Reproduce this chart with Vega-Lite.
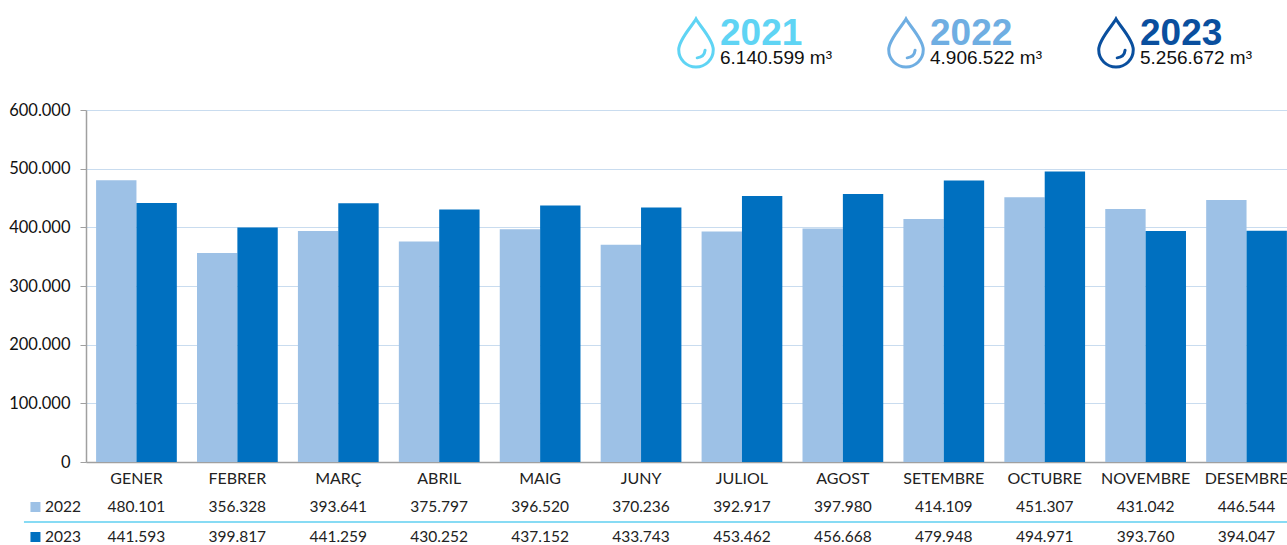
{
"$schema":"https://vega.github.io/schema/vega-lite/v6.json",
"background":"white",
"padding":{"left":8,"top":0,"right":0,"bottom":0},
"spacing":30,
"bounds":"flush",
"resolve":{"scale":{"color":"independent","stroke":"independent"}},
"config":{"view":{"stroke":null},"font":"Lato"},
"datasets":{
"totals":[
{"any":"2021","total":"6.140.599 m³"},
{"any":"2022","total":"4.906.522 m³"},
{"any":"2023","total":"5.256.672 m³"}],
"series":[{"any":"2022"},{"any":"2023"}],
"rows":[
{"mes":"GENER","any":"2022","valor":480101,"etiqueta":"480.101"},
{"mes":"FEBRER","any":"2022","valor":356328,"etiqueta":"356.328"},
{"mes":"MARÇ","any":"2022","valor":393641,"etiqueta":"393.641"},
{"mes":"ABRIL","any":"2022","valor":375797,"etiqueta":"375.797"},
{"mes":"MAIG","any":"2022","valor":396520,"etiqueta":"396.520"},
{"mes":"JUNY","any":"2022","valor":370236,"etiqueta":"370.236"},
{"mes":"JULIOL","any":"2022","valor":392917,"etiqueta":"392.917"},
{"mes":"AGOST","any":"2022","valor":397980,"etiqueta":"397.980"},
{"mes":"SETEMBRE","any":"2022","valor":414109,"etiqueta":"414.109"},
{"mes":"OCTUBRE","any":"2022","valor":451307,"etiqueta":"451.307"},
{"mes":"NOVEMBRE","any":"2022","valor":431042,"etiqueta":"431.042"},
{"mes":"DESEMBRE","any":"2022","valor":446544,"etiqueta":"446.544"},
{"mes":"GENER","any":"2023","valor":441593,"etiqueta":"441.593"},
{"mes":"FEBRER","any":"2023","valor":399817,"etiqueta":"399.817"},
{"mes":"MARÇ","any":"2023","valor":441259,"etiqueta":"441.259"},
{"mes":"ABRIL","any":"2023","valor":430252,"etiqueta":"430.252"},
{"mes":"MAIG","any":"2023","valor":437152,"etiqueta":"437.152"},
{"mes":"JUNY","any":"2023","valor":433743,"etiqueta":"433.743"},
{"mes":"JULIOL","any":"2023","valor":453462,"etiqueta":"453.462"},
{"mes":"AGOST","any":"2023","valor":456668,"etiqueta":"456.668"},
{"mes":"SETEMBRE","any":"2023","valor":479948,"etiqueta":"479.948"},
{"mes":"OCTUBRE","any":"2023","valor":494971,"etiqueta":"494.971"},
{"mes":"NOVEMBRE","any":"2023","valor":393760,"etiqueta":"393.760"},
{"mes":"DESEMBRE","any":"2023","valor":394047,"etiqueta":"394.047"}]
},
"vconcat":[
{
"width":1211,"height":80,
"data":{"name":"totals"},
"encoding":{
"x":{"field":"any","type":"ordinal","axis":null,"scale":{"type":"point","domain":["2021","2022","2023"],"range":[610,1030],"padding":0}}
},
"layer":[
{"mark":{"type":"point","filled":false,"strokeWidth":3,"strokeCap":"round","yOffset":3,"shape":"M0,-1 C0.15,-0.72 0.72,-0.15 0.72,0.28 C0.72,0.68 0.4,1 0,1 C-0.4,1 -0.72,0.68 -0.72,0.28 C-0.72,-0.15 -0.15,-0.72 0,-1 Z M0.38,0.3 C0.36,0.48 0.24,0.6 0.05,0.62","size":2300,"opacity":1},
"encoding":{"stroke":{"field":"any","type":"nominal","legend":null,"scale":{"domain":["2021","2022","2023"],"range":["#5FD4F4","#6FAEE2","#0A4F9E"]}}}},
{"mark":{"type":"text","align":"left","baseline":"alphabetic","dx":24,"yOffset":5,"font":"Liberation Sans","fontWeight":"bold","fontSize":37},
"encoding":{"text":{"field":"any"},"color":{"field":"any","type":"nominal","legend":null,"scale":{"domain":["2021","2022","2023"],"range":["#5FD4F4","#6FAEE2","#0A4F9E"]}}}},
{"mark":{"type":"text","align":"left","baseline":"alphabetic","dx":24,"yOffset":24,"font":"Liberation Sans","fontSize":19,"color":"#111111"},
"encoding":{"text":{"field":"total"}}}
]
},
{
"width":1211,"height":352,
"data":{"name":"rows"},
"mark":{"type":"bar"},
"encoding":{
"x":{"field":"mes","type":"nominal","sort":null,"title":null,"scale":{"paddingInner":0.2,"paddingOuter":0.1},
"axis":{"labelAngle":0,"ticks":false,"domainColor":"#A0A0A0","domainWidth":1.5,"labelPadding":8,"labelFontSize":16,"labelColor":"#222222","labelFont":"Lato"}},
"xOffset":{"field":"any","type":"nominal","sort":["2022","2023"]},
"y":{"field":"valor","type":"quantitative","title":null,"scale":{"domain":[0,600000]},
"axis":{"values":[0,100000,200000,300000,400000,500000,600000],"labelExpr":"replace(format(datum.value,','),',','.')","grid":true,"gridColor":"#C9DCEF","gridWidth":1,"domainColor":"#A0A0A0","domainWidth":1.5,"tickColor":"#A0A0A0","tickSize":6,"labelFontSize":16.5,"labelColor":"#111111","labelPadding":10,"labelFont":"Lato"}},
"color":{"field":"any","type":"nominal","legend":null,"scale":{"domain":["2022","2023"],"range":["#9DC1E6","#0070C0"]}}
}
},
{
"width":1211,"height":60,
"encoding":{
"y":{"field":"any","type":"nominal","axis":null,"scale":{"domain":["2022","2023"],"paddingInner":0,"paddingOuter":0}}
},
"layer":[
{"data":{"name":"rows"},"mark":{"type":"text","fontSize":15.5,"color":"#222222"},
"encoding":{
"x":{"field":"mes","type":"nominal","sort":null,"axis":null,"scale":{"domain":["·","GENER","FEBRER","MARÇ","ABRIL","MAIG","JUNY","JULIOL","AGOST","SETEMBRE","OCTUBRE","NOVEMBRE","DESEMBRE"],"range":[-101,1211],"paddingInner":0,"paddingOuter":0}},
"text":{"field":"etiqueta"}}},
{"data":{"name":"series"},"mark":{"type":"point","shape":"square","filled":true,"size":100,"opacity":1},
"encoding":{"x":{"datum":"·"},"color":{"field":"any","type":"nominal","legend":null,"scale":{"domain":["2022","2023"],"range":["#9DC1E6","#0070C0"]}}}},
{"data":{"name":"series"},"mark":{"type":"text","align":"left","dx":9.5,"fontSize":15.5,"color":"#222222"},
"encoding":{"x":{"datum":"·"},"text":{"field":"any"}}},
{"data":{"values":[{"any":"2023"}]},"mark":{"type":"rule","color":"#5FCFF0","strokeWidth":1.5},
"encoding":{"x":{"datum":"·","bandPosition":0.386},"x2":{"value":1211},"y":{"field":"any","type":"nominal","bandPosition":0}}}
]
}
]
}
